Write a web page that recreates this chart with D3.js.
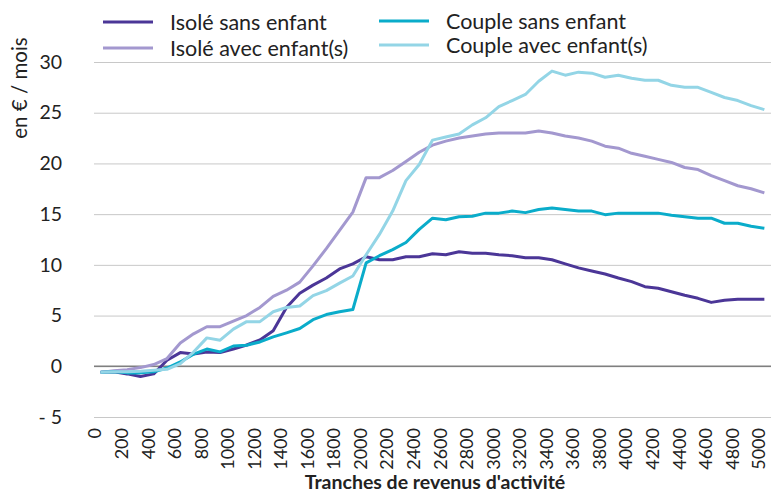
<!DOCTYPE html>
<html>
<head>
<meta charset="utf-8">
<script src="https://cdn.jsdelivr.net/npm/d3@7"></script>
<style>
  body { margin: 0; background: #fff; }
  text { font-family: Lato, "Open Sans", sans-serif; fill: #222; }
</style>
</head>
<body>
<div id="wrapper"></div>
<script>
// categories (tranches de revenus d'activité)
const tranches = [0, 100, 200, 300, 400, 500, 600, 700, 800, 900,
  1000, 1100, 1200, 1300, 1400, 1500, 1600, 1700, 1800, 1900,
  2000, 2100, 2200, 2300, 2400, 2500, 2600, 2700, 2800, 2900,
  3000, 3100, 3200, 3300, 3400, 3500, 3600, 3700, 3800, 3900,
  4000, 4100, 4200, 4300, 4400, 4500, 4600, 4700, 4800, 4900, 5000];

const tickLabelsX = [0, 200, 400, 600, 800, 1000, 1200, 1400, 1600, 1800, 2000, 2200, 2400,
  2600, 2800, 3000, 3200, 3400, 3600, 3800, 4000, 4200, 4400, 4600, 4800, 5000];
const tickLabelsY = [-5, 0, 5, 10, 15, 20, 25, 30];

// séries (en € / mois)
const isoleSans = [-0.6, -0.55, -0.75, -1.0, -0.75, 0.6, 1.35, 1.2, 1.4, 1.35,
  1.7, 2.1, 2.6, 3.5, 5.8, 7.2, 8.0, 8.7, 9.6, 10.1,
  10.8, 10.5, 10.5, 10.8, 10.8, 11.1, 11.0, 11.3, 11.15, 11.15,
  11.0, 10.9, 10.7, 10.7, 10.5, 10.1, 9.7, 9.4, 9.1, 8.7,
  8.35, 7.85, 7.7, 7.35, 7.0, 6.7, 6.3, 6.5, 6.6, 6.6, 6.6];

const isoleAvec = [-0.6, -0.45, -0.33, -0.13, 0.17, 0.76, 2.3, 3.2, 3.9, 3.9,
  4.45, 5.0, 5.8, 6.9, 7.5, 8.3, 9.9, 11.6, 13.4, 15.2,
  18.6, 18.6, 19.3, 20.2, 21.1, 21.8, 22.2, 22.5, 22.7, 22.9,
  23.0, 23.0, 23.0, 23.2, 23.0, 22.7, 22.5, 22.2, 21.7, 21.5,
  21.0, 20.7, 20.4, 20.1, 19.6, 19.4, 18.8, 18.3, 17.8, 17.5, 17.1];

const coupleSans = [-0.6, -0.55, -0.65, -0.65, -0.55, -0.17, 0.43, 1.2, 1.7, 1.42,
  2.0, 2.08, 2.4, 2.9, 3.3, 3.73, 4.6, 5.1, 5.38, 5.6,
  10.2, 10.9, 11.5, 12.2, 13.5, 14.6, 14.45, 14.75, 14.8, 15.1,
  15.1, 15.3, 15.15, 15.45, 15.6, 15.45, 15.3, 15.3, 14.95, 15.1,
  15.1, 15.1, 15.1, 14.9, 14.75, 14.6, 14.6, 14.1, 14.1, 13.8, 13.6];

const coupleAvec = [-0.6, -0.55, -0.55, -0.5, -0.4, -0.3, 0.26, 1.4, 2.8, 2.57,
  3.66, 4.4, 4.4, 5.38, 5.8, 5.94, 6.96, 7.46, 8.2, 8.9,
  11.0, 13.0, 15.3, 18.3, 19.9, 22.3, 22.6, 22.9, 23.8, 24.5,
  25.6, 26.2, 26.8, 28.1, 29.1, 28.7, 29.0, 28.9, 28.5, 28.7,
  28.4, 28.2, 28.2, 27.7, 27.5, 27.5, 27.0, 26.5, 26.2, 25.7, 25.3];

const seriesNames = ["Isolé sans enfant", "Isolé avec enfant(s)", "Couple sans enfant", "Couple avec enfant(s)"];
const seriesValues = [isoleSans, isoleAvec, coupleSans, coupleAvec];
const seriesColors = ["#4b3697", "#a398cf", "#0aacca", "#93d5e6"];

function drawChart() {
  const dimensions = {
    width: 779,
    height: 492,
    margin: { top: 62, right: 8, bottom: 75, left: 94 }
  };
  dimensions.boundedW = dimensions.width - dimensions.margin.left - dimensions.margin.right;
  dimensions.boundedH = dimensions.height - dimensions.margin.top - dimensions.margin.bottom;

  const wrapper = d3.select('#wrapper')
    .append('svg')
    .attr('width', dimensions.width)
    .attr('height', dimensions.height);

  const bounds = wrapper.append('g')
    .attr('transform', `translate(${dimensions.margin.left},${dimensions.margin.top})`);

  const xScale = d3.scalePoint()
    .domain(tranches)
    .range([0, dimensions.boundedW])
    .padding(0.5);

  const yScale = d3.scaleLinear()
    .domain([-5, 30])
    .range([dimensions.boundedH, 0]);

  /// GRILLE + AXE Y
  const yAxis = bounds.append('g')
    .call(d3.axisLeft(yScale)
      .tickValues(tickLabelsY)
      .tickSize(-dimensions.boundedW)
      .tickPadding(32)
      .tickFormat(d => d < 0 ? "- " + Math.abs(d) : d));
  yAxis.select('.domain').remove();
  yAxis.selectAll('line').attr('stroke', '#c8c8c8').attr('stroke-width', 1);
  yAxis.selectAll('text')
    .style('font-size', '19.5px')
    .attr('fill', '#222');

  // ligne zéro
  bounds.append('line')
    .attr('x1', 0)
    .attr('x2', dimensions.boundedW)
    .attr('y1', yScale(0))
    .attr('y2', yScale(0))
    .attr('stroke', '#7f7f7f')
    .attr('stroke-width', 1.6);

  /// AXE X
  const xAxis = bounds.append('g')
    .attr('transform', `translate(0,${dimensions.boundedH})`)
    .call(d3.axisBottom(xScale).tickValues(tickLabelsX).tickSize(0));
  xAxis.select('.domain').remove();
  xAxis.selectAll('text')
    .attr('transform', 'rotate(-90)')
    .attr('text-anchor', 'end')
    .attr('x', -11)
    .attr('y', -6)
    .attr('dy', '0.35em')
    .style('font-size', '18px')
    .attr('fill', '#222');

  /// LIGNES
  const line = d3.line()
    .x((d, i) => xScale(tranches[i]))
    .y(d => yScale(d));

  bounds.selectAll('.serie')
    .data(seriesValues)
    .enter()
    .append('path')
    .attr('class', 'serie')
    .attr('d', d => line(d))
    .attr('fill', 'none')
    .attr('stroke', (d, i) => seriesColors[i])
    .attr('stroke-width', 3)
    .attr('stroke-linejoin', 'round');

  /// TITRES DES AXES
  wrapper.append('text')
    .attr('transform', 'translate(27,88) rotate(-90)')
    .attr('text-anchor', 'middle')
    .style('font-size', '20.5px')
    .text('en € / mois');

  wrapper.append('text')
    .attr('x', 435)
    .attr('y', 489)
    .attr('text-anchor', 'middle')
    .style('font-size', '19.5px')
    .style('font-weight', 'bold')
    .text("Tranches de revenus d'activité");

  /// LÉGENDE
  const legendPos = [
    { x: 103, y: 22 },
    { x: 103, y: 48 },
    { x: 379, y: 21 },
    { x: 379, y: 45 }
  ];
  const legend = wrapper.selectAll('.legende')
    .data(seriesNames)
    .enter()
    .append('g')
    .attr('class', 'legende')
    .attr('transform', (d, i) => `translate(${legendPos[i].x},${legendPos[i].y})`);

  legend.append('line')
    .attr('x1', 0)
    .attr('x2', 50)
    .attr('stroke', (d, i) => seriesColors[i])
    .attr('stroke-width', 3);

  legend.append('text')
    .attr('x', 67)
    .attr('dy', '0.35em')
    .style('font-size', '21.5px')
    .text(d => d);
}

drawChart();
</script>
</body>
</html>
